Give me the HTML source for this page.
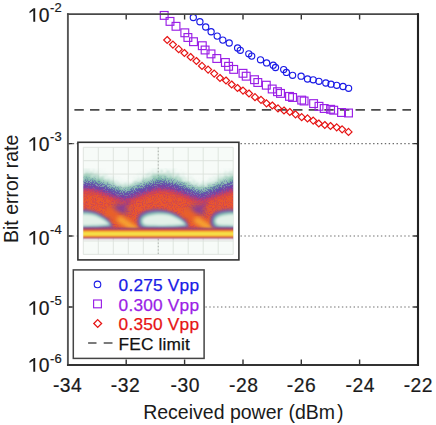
<!DOCTYPE html>
<html><head><meta charset="utf-8"><style>
html,body{margin:0;padding:0;background:#fff;width:436px;height:425px;overflow:hidden}
svg{display:block}
</style></head><body>
<svg width="436" height="425" viewBox="0 0 436 425">
<defs><filter id="b05" x="-5%" y="-5%" width="110%" height="110%"><feGaussianBlur stdDeviation="0.45"/></filter><filter id="b08" x="-5%" y="-5%" width="110%" height="110%"><feGaussianBlur stdDeviation="1.0"/></filter><filter id="b1" x="-10%" y="-50%" width="120%" height="200%"><feGaussianBlur stdDeviation="0.8"/></filter>
<filter id="b15" x="-20%" y="-20%" width="140%" height="140%"><feGaussianBlur stdDeviation="1.5"/></filter>
<filter id="b2" x="-20%" y="-20%" width="140%" height="140%"><feGaussianBlur stdDeviation="2"/></filter>
<filter id="b3" x="-20%" y="-30%" width="140%" height="160%"><feGaussianBlur stdDeviation="3"/></filter>

<clipPath id="eyeclip"><rect x="83.3" y="147.3" width="149.9" height="107.1"/></clipPath><filter id="sp1" x="-10%" y="-20%" width="120%" height="140%" color-interpolation-filters="sRGB">
<feGaussianBlur in="SourceGraphic" stdDeviation="5" result="bl"/>
<feTurbulence type="fractalNoise" baseFrequency="0.75" numOctaves="1" seed="2" result="tn"/>
<feColorMatrix in="tn" type="matrix" values="0 0 0 0 0 0 0 0 0 0 0 0 0 0 0 4 0 0 0 -1.5" result="na"/>
<feComposite in="na" in2="bl" operator="arithmetic" k1="0" k2="6" k3="6" k4="-6" result="mask"/>
<feComposite in="bl" in2="mask" operator="in"/>
</filter><filter id="sp2" x="-10%" y="-20%" width="120%" height="140%" color-interpolation-filters="sRGB">
<feGaussianBlur in="SourceGraphic" stdDeviation="3" result="bl"/>
<feTurbulence type="fractalNoise" baseFrequency="0.9" numOctaves="1" seed="5" result="tn"/>
<feColorMatrix in="tn" type="matrix" values="0 0 0 0 0 0 0 0 0 0 0 0 0 0 0 4 0 0 0 -1.5" result="na"/>
<feComposite in="na" in2="bl" operator="arithmetic" k1="0" k2="6" k3="6" k4="-6" result="mask"/>
<feComposite in="bl" in2="mask" operator="in"/>
</filter><filter id="sp3" x="-10%" y="-20%" width="120%" height="140%" color-interpolation-filters="sRGB">
<feGaussianBlur in="SourceGraphic" stdDeviation="2" result="bl"/>
<feTurbulence type="fractalNoise" baseFrequency="0.9" numOctaves="1" seed="9" result="tn"/>
<feColorMatrix in="tn" type="matrix" values="0 0 0 0 0 0 0 0 0 0 0 0 0 0 0 4 0 0 0 -1.5" result="na"/>
<feComposite in="na" in2="bl" operator="arithmetic" k1="0" k2="6" k3="6" k4="-6" result="mask"/>
<feComposite in="bl" in2="mask" operator="in"/>
</filter><filter id="sp4" x="-10%" y="-20%" width="120%" height="140%" color-interpolation-filters="sRGB">
<feGaussianBlur in="SourceGraphic" stdDeviation="2" result="bl"/>
<feTurbulence type="fractalNoise" baseFrequency="0.9" numOctaves="1" seed="13" result="tn"/>
<feColorMatrix in="tn" type="matrix" values="0 0 0 0 0 0 0 0 0 0 0 0 0 0 0 4 0 0 0 -1.5" result="na"/>
<feComposite in="na" in2="bl" operator="arithmetic" k1="0" k2="6" k3="6" k4="-6" result="mask"/>
<feComposite in="bl" in2="mask" operator="in"/>
</filter></defs>
<rect width="436" height="425" fill="#fff"/>
<line x1="68.9" y1="143.6" x2="417.0" y2="143.6" stroke="#6a6a6a" stroke-width="1.2" stroke-dasharray="1.4 2.5"/><line x1="68.9" y1="236.0" x2="417.0" y2="236.0" stroke="#6a6a6a" stroke-width="1.2" stroke-dasharray="1.4 2.5"/><line x1="68.9" y1="307.0" x2="417.0" y2="307.0" stroke="#6a6a6a" stroke-width="1.2" stroke-dasharray="1.4 2.5"/><line x1="74.4" y1="109.9" x2="411" y2="109.9" stroke="#4a4a4a" stroke-width="1.6" stroke-dasharray="9.4 6.22"/><g fill="none" stroke="#1a1ae6" stroke-width="1.15"><circle cx="193.3" cy="17.5" r="3.1"/><circle cx="199.9" cy="21.7" r="3.1"/><circle cx="205.7" cy="27" r="3.1"/><circle cx="211.1" cy="31.8" r="3.1"/><circle cx="217.2" cy="36.1" r="3.1"/><circle cx="222.8" cy="40.1" r="3.1"/><circle cx="229.2" cy="43" r="3.1"/><circle cx="237.6" cy="48" r="3.1"/><circle cx="240.3" cy="50.3" r="3.1"/><circle cx="248.8" cy="53.8" r="3.1"/><circle cx="251.7" cy="56.1" r="3.1"/><circle cx="260.5" cy="59.8" r="3.1"/><circle cx="266.6" cy="62.9" r="3.1"/><circle cx="273.2" cy="65.2" r="3.1"/><circle cx="275.5" cy="67.5" r="3.1"/><circle cx="283.7" cy="69.6" r="3.1"/><circle cx="286.4" cy="72.4" r="3.1"/><circle cx="292.6" cy="75.3" r="3.1"/><circle cx="301.1" cy="76.2" r="3.1"/><circle cx="307.5" cy="79" r="3.1"/><circle cx="313.2" cy="79.8" r="3.1"/><circle cx="318.9" cy="81.3" r="3.1"/><circle cx="325.8" cy="83" r="3.1"/><circle cx="331" cy="84.2" r="3.1"/><circle cx="336.7" cy="85.3" r="3.1"/><circle cx="343" cy="86.5" r="3.1"/><circle cx="348.6" cy="88.3" r="3.1"/></g><g fill="none" stroke="#9a1ee6" stroke-width="1.15"><rect x="160.3" y="11.5" width="7.8" height="7.8"/><rect x="166.1" y="17.5" width="7.8" height="7.8"/><rect x="172.1" y="22.4" width="7.8" height="7.8"/><rect x="180.9" y="28.9" width="7.8" height="7.8"/><rect x="184.0" y="33.6" width="7.8" height="7.8"/><rect x="189.6" y="37.8" width="7.8" height="7.8"/><rect x="198.4" y="41.8" width="7.8" height="7.8"/><rect x="201.2" y="46.1" width="7.8" height="7.8"/><rect x="207.1" y="50.0" width="7.8" height="7.8"/><rect x="212.9" y="54.6" width="7.8" height="7.8"/><rect x="221.5" y="58.6" width="7.8" height="7.8"/><rect x="224.7" y="62.4" width="7.8" height="7.8"/><rect x="229.8" y="65.5" width="7.8" height="7.8"/><rect x="239.1" y="69.4" width="7.8" height="7.8"/><rect x="242.3" y="72.3" width="7.8" height="7.8"/><rect x="250.6" y="75.8" width="7.8" height="7.8"/><rect x="253.9" y="78.6" width="7.8" height="7.8"/><rect x="262.4" y="81.3" width="7.8" height="7.8"/><rect x="268.3" y="85.1" width="7.8" height="7.8"/><rect x="273.6" y="87.8" width="7.8" height="7.8"/><rect x="276.6" y="89.5" width="7.8" height="7.8"/><rect x="285.6" y="92.5" width="7.8" height="7.8"/><rect x="288.7" y="93.6" width="7.8" height="7.8"/><rect x="297.8" y="96.2" width="7.8" height="7.8"/><rect x="300.2" y="97.1" width="7.8" height="7.8"/><rect x="309.7" y="99.7" width="7.8" height="7.8"/><rect x="315.1" y="102.4" width="7.8" height="7.8"/><rect x="320.3" y="104.6" width="7.8" height="7.8"/><rect x="326.7" y="105.4" width="7.8" height="7.8"/><rect x="329.8" y="106.3" width="7.8" height="7.8"/><rect x="337.6" y="108.6" width="7.8" height="7.8"/><rect x="344.6" y="109.1" width="7.8" height="7.8"/></g><g fill="none" stroke="#e61414" stroke-width="1.2"><path d="M167.2 36.5L170.7 40.0L167.2 43.5L163.7 40.0Z"/><path d="M172.9 41.1L176.4 44.6L172.9 48.1L169.4 44.6Z"/><path d="M178.7 45.7L182.2 49.2L178.7 52.7L175.2 49.2Z"/><path d="M184.4 49.5L187.9 53.0L184.4 56.5L180.9 53.0Z"/><path d="M190.6 53.5L194.1 57.0L190.6 60.5L187.1 57.0Z"/><path d="M196.4 57.5L199.9 61.0L196.4 64.5L192.9 61.0Z"/><path d="M202.0 62.4L205.5 65.9L202.0 69.4L198.5 65.9Z"/><path d="M208.1 66.1L211.6 69.6L208.1 73.1L204.6 69.6Z"/><path d="M214.2 70.1L217.7 73.6L214.2 77.1L210.7 73.6Z"/><path d="M220.0 74.5L223.5 78.0L220.0 81.5L216.5 78.0Z"/><path d="M226.0 77.0L229.5 80.5L226.0 84.0L222.5 80.5Z"/><path d="M231.7 81.0L235.2 84.5L231.7 88.0L228.2 84.5Z"/><path d="M237.5 84.5L241.0 88.0L237.5 91.5L234.0 88.0Z"/><path d="M243.0 87.1L246.5 90.6L243.0 94.1L239.5 90.6Z"/><path d="M249.0 90.0L252.5 93.5L249.0 97.0L245.5 93.5Z"/><path d="M255.0 93.7L258.5 97.2L255.0 100.7L251.5 97.2Z"/><path d="M261.0 96.3L264.5 99.8L261.0 103.3L257.5 99.8Z"/><path d="M266.5 99.8L270.0 103.3L266.5 106.8L263.0 103.3Z"/><path d="M272.3 102.0L275.8 105.5L272.3 109.0L268.8 105.5Z"/><path d="M278.0 104.9L281.5 108.4L278.0 111.9L274.5 108.4Z"/><path d="M284.0 107.0L287.5 110.5L284.0 114.0L280.5 110.5Z"/><path d="M289.8 108.5L293.3 112.0L289.8 115.5L286.3 112.0Z"/><path d="M295.5 110.8L299.0 114.3L295.5 117.8L292.0 114.3Z"/><path d="M301.7 113.7L305.2 117.2L301.7 120.7L298.2 117.2Z"/><path d="M307.5 114.9L311.0 118.4L307.5 121.9L304.0 118.4Z"/><path d="M313.2 117.1L316.7 120.6L313.2 124.1L309.7 120.6Z"/><path d="M318.8 120.0L322.3 123.5L318.8 127.0L315.3 123.5Z"/><path d="M324.8 121.5L328.3 125.0L324.8 128.5L321.3 125.0Z"/><path d="M330.5 122.5L334.0 126.0L330.5 129.5L327.0 126.0Z"/><path d="M336.7 123.8L340.2 127.3L336.7 130.8L333.2 127.3Z"/><path d="M342.1 125.8L345.6 129.3L342.1 132.8L338.6 129.3Z"/><path d="M348.5 128.4L352.0 131.9L348.5 135.4L345.0 131.9Z"/></g><path d="M126.2 365.0v-5.5M126.2 14.1v5.5M184.6 365.0v-5.5M184.6 14.1v5.5M243.0 365.0v-5.5M243.0 14.1v5.5M301.3 365.0v-5.5M301.3 14.1v5.5M359.6 365.0v-5.5M359.6 14.1v5.5M67.9 143.6h4.8M418.0 143.6h-4.8M67.9 236.0h4.8M418.0 236.0h-4.8M67.9 307.0h4.8M418.0 307.0h-4.8" stroke="#333" stroke-width="1.4" fill="none"/>
<g>
<rect x="77.9" y="142.3" width="161.0" height="117.6" fill="#fff" stroke="#333" stroke-width="1.6"/>
<rect x="83.3" y="147.3" width="149.9" height="107.1" fill="#f7fbf8"/>
<g stroke="#dde2dd" stroke-width="0.9" fill="none">
<line x1="83.3" y1="147.3" x2="83.3" y2="254.4"/><line x1="98.3" y1="147.3" x2="98.3" y2="254.4"/><line x1="113.3" y1="147.3" x2="113.3" y2="254.4"/><line x1="128.3" y1="147.3" x2="128.3" y2="254.4"/><line x1="143.3" y1="147.3" x2="143.3" y2="254.4"/><line x1="158.2" y1="147.3" x2="158.2" y2="254.4"/><line x1="173.2" y1="147.3" x2="173.2" y2="254.4"/><line x1="188.2" y1="147.3" x2="188.2" y2="254.4"/><line x1="203.2" y1="147.3" x2="203.2" y2="254.4"/><line x1="218.2" y1="147.3" x2="218.2" y2="254.4"/><line x1="233.2" y1="147.3" x2="233.2" y2="254.4"/><line x1="83.3" y1="147.3" x2="233.2" y2="147.3"/><line x1="83.3" y1="160.7" x2="233.2" y2="160.7"/><line x1="83.3" y1="174.1" x2="233.2" y2="174.1"/><line x1="83.3" y1="187.5" x2="233.2" y2="187.5"/><line x1="83.3" y1="200.9" x2="233.2" y2="200.9"/><line x1="83.3" y1="214.2" x2="233.2" y2="214.2"/><line x1="83.3" y1="227.6" x2="233.2" y2="227.6"/><line x1="83.3" y1="241.0" x2="233.2" y2="241.0"/><line x1="83.3" y1="254.4" x2="233.2" y2="254.4"/><line x1="158.25" y1="147.3" x2="158.25" y2="254.4" stroke="#a8aca8" stroke-dasharray="1.3 2.1"/>
</g>
<g clip-path="url(#eyeclip)"><g filter="url(#b05)"><g filter="url(#b08)"><path d="M77.3 172.7L79.1 172.1L80.9 171.7L82.7 171.3L84.5 171.1L86.3 171.0L88.1 171.1L89.9 171.3L91.7 171.7L93.5 172.2L95.3 172.7L97.1 173.4L98.9 174.1L100.7 174.9L102.5 175.8L104.3 176.7L106.1 177.6L107.9 178.5L109.7 179.5L111.5 180.4L113.3 181.3L115.1 182.2L116.9 183.0L118.7 183.8L120.5 184.6L122.3 185.3L124.1 185.9L125.9 185.6L127.7 184.9L129.5 184.2L131.3 183.4L133.1 182.6L134.9 181.7L136.7 180.8L138.5 179.9L140.3 179.0L142.1 178.0L143.9 177.1L145.7 176.2L147.5 175.3L149.3 174.5L151.1 173.7L152.9 173.0L154.7 172.4L156.5 171.9L158.2 171.5L160.0 171.2L161.8 171.0L163.6 171.0L165.4 171.2L167.2 171.5L169.0 171.9L170.8 172.4L172.6 173.0L174.4 173.7L176.2 174.5L178.0 175.3L179.8 176.2L181.6 177.1L183.4 178.0L185.2 179.0L187.0 179.9L188.8 180.8L190.6 181.7L192.4 182.6L194.2 183.4L196.0 184.2L197.8 184.9L199.6 185.5L201.4 185.9L203.2 185.3L205.0 184.6L206.8 183.8L208.6 183.0L210.4 182.2L212.2 181.3L214.0 180.4L215.8 179.5L217.6 178.5L219.4 177.6L221.2 176.7L223.0 175.8L224.8 174.9L226.6 174.1L228.4 173.4L230.2 172.7L232.0 172.2L233.8 171.7L235.6 171.3L237.4 171.1L239.2 171.0L239.2 229L77.3 229Z" fill="#6cb496" fill-opacity="0.9" filter="url(#sp1)"/><path d="M77.3 177.7L79.1 177.3L80.9 177.0L82.7 176.7L84.5 176.6L86.3 176.5L88.1 176.6L89.9 176.7L91.7 177.0L93.5 177.4L95.3 177.8L97.1 178.3L98.9 178.8L100.7 179.4L102.5 180.0L104.3 180.7L106.1 181.3L107.9 182.0L109.7 182.7L111.5 183.4L113.3 184.1L115.1 184.7L116.9 185.3L118.7 185.9L120.5 186.5L122.3 187.0L124.1 187.4L125.9 187.2L127.7 186.7L129.5 186.2L131.3 185.6L133.1 185.0L134.9 184.4L136.7 183.7L138.5 183.0L140.3 182.4L142.1 181.7L143.9 181.0L145.7 180.3L147.5 179.7L149.3 179.1L151.1 178.5L152.9 178.0L154.7 177.5L156.5 177.2L158.2 176.9L160.0 176.6L161.8 176.5L163.6 176.5L165.4 176.6L167.2 176.9L169.0 177.2L170.8 177.5L172.6 178.0L174.4 178.5L176.2 179.1L178.0 179.7L179.8 180.3L181.6 181.0L183.4 181.7L185.2 182.3L187.0 183.0L188.8 183.7L190.6 184.4L192.4 185.0L194.2 185.6L196.0 186.2L197.8 186.7L199.6 187.2L201.4 187.4L203.2 187.0L205.0 186.5L206.8 185.9L208.6 185.3L210.4 184.7L212.2 184.1L214.0 183.4L215.8 182.7L217.6 182.0L219.4 181.3L221.2 180.7L223.0 180.0L224.8 179.4L226.6 178.8L228.4 178.3L230.2 177.8L232.0 177.4L233.8 177.0L235.6 176.8L237.4 176.6L239.2 176.5L239.2 229L77.3 229Z" fill="#5aa898" fill-opacity="0.85" filter="url(#sp2)"/></g><path d="M77.3 181.2L79.1 180.8L80.9 180.5L82.7 180.2L84.5 180.1L86.3 180.0L88.1 180.1L89.9 180.2L91.7 180.5L93.5 180.9L95.3 181.3L97.1 181.8L98.9 182.3L100.7 182.9L102.5 183.5L104.3 184.2L106.1 184.8L107.9 185.5L109.7 186.2L111.5 186.9L113.3 187.6L115.1 188.2L116.9 188.8L118.7 189.4L120.5 190.0L122.3 190.5L124.1 190.9L125.9 190.7L127.7 190.2L129.5 189.7L131.3 189.1L133.1 188.5L134.9 187.9L136.7 187.2L138.5 186.5L140.3 185.9L142.1 185.2L143.9 184.5L145.7 183.8L147.5 183.2L149.3 182.6L151.1 182.0L152.9 181.5L154.7 181.0L156.5 180.7L158.2 180.4L160.0 180.1L161.8 180.0L163.6 180.0L165.4 180.1L167.2 180.4L169.0 180.7L170.8 181.0L172.6 181.5L174.4 182.0L176.2 182.6L178.0 183.2L179.8 183.8L181.6 184.5L183.4 185.2L185.2 185.8L187.0 186.5L188.8 187.2L190.6 187.9L192.4 188.5L194.2 189.1L196.0 189.7L197.8 190.2L199.6 190.7L201.4 190.9L203.2 190.5L205.0 190.0L206.8 189.4L208.6 188.8L210.4 188.2L212.2 187.6L214.0 186.9L215.8 186.2L217.6 185.5L219.4 184.8L221.2 184.2L223.0 183.5L224.8 182.9L226.6 182.3L228.4 181.8L230.2 181.3L232.0 180.9L233.8 180.5L235.6 180.3L237.4 180.1L239.2 180.0L239.2 229L77.3 229Z" fill="#5252b2" filter="url(#sp2)"/><path d="M77.3 185.7L79.1 185.3L80.9 185.0L82.7 184.7L84.5 184.6L86.3 184.5L88.1 184.6L89.9 184.7L91.7 185.0L93.5 185.4L95.3 185.8L97.1 186.3L98.9 186.8L100.7 187.4L102.5 188.0L104.3 188.7L106.1 189.3L107.9 190.0L109.7 190.7L111.5 191.4L113.3 192.1L115.1 192.7L116.9 193.3L118.7 193.9L120.5 194.5L122.3 195.0L124.1 195.4L125.9 195.2L127.7 194.7L129.5 194.2L131.3 193.6L133.1 193.0L134.9 192.4L136.7 191.7L138.5 191.0L140.3 190.4L142.1 189.7L143.9 189.0L145.7 188.3L147.5 187.7L149.3 187.1L151.1 186.5L152.9 186.0L154.7 185.5L156.5 185.2L158.2 184.9L160.0 184.6L161.8 184.5L163.6 184.5L165.4 184.6L167.2 184.9L169.0 185.2L170.8 185.5L172.6 186.0L174.4 186.5L176.2 187.1L178.0 187.7L179.8 188.3L181.6 189.0L183.4 189.7L185.2 190.3L187.0 191.0L188.8 191.7L190.6 192.4L192.4 193.0L194.2 193.6L196.0 194.2L197.8 194.7L199.6 195.2L201.4 195.4L203.2 195.0L205.0 194.5L206.8 193.9L208.6 193.3L210.4 192.7L212.2 192.1L214.0 191.4L215.8 190.7L217.6 190.0L219.4 189.3L221.2 188.7L223.0 188.0L224.8 187.4L226.6 186.8L228.4 186.3L230.2 185.8L232.0 185.4L233.8 185.0L235.6 184.8L237.4 184.6L239.2 184.5L239.2 229L77.3 229Z" fill="#7a40a8" filter="url(#b3)"/><path d="M77.3 188.7L79.1 188.3L80.9 188.0L82.7 187.7L84.5 187.6L86.3 187.5L88.1 187.6L89.9 187.7L91.7 188.0L93.5 188.4L95.3 188.8L97.1 189.3L98.9 189.8L100.7 190.4L102.5 191.0L104.3 191.7L106.1 192.3L107.9 193.0L109.7 193.7L111.5 194.4L113.3 195.1L115.1 195.7L116.9 196.3L118.7 196.9L120.5 197.5L122.3 198.0L124.1 198.4L125.9 198.2L127.7 197.7L129.5 197.2L131.3 196.6L133.1 196.0L134.9 195.4L136.7 194.7L138.5 194.0L140.3 193.4L142.1 192.7L143.9 192.0L145.7 191.3L147.5 190.7L149.3 190.1L151.1 189.5L152.9 189.0L154.7 188.5L156.5 188.2L158.2 187.9L160.0 187.6L161.8 187.5L163.6 187.5L165.4 187.6L167.2 187.9L169.0 188.2L170.8 188.5L172.6 189.0L174.4 189.5L176.2 190.1L178.0 190.7L179.8 191.3L181.6 192.0L183.4 192.7L185.2 193.3L187.0 194.0L188.8 194.7L190.6 195.4L192.4 196.0L194.2 196.6L196.0 197.2L197.8 197.7L199.6 198.2L201.4 198.4L203.2 198.0L205.0 197.5L206.8 196.9L208.6 196.3L210.4 195.7L212.2 195.1L214.0 194.4L215.8 193.7L217.6 193.0L219.4 192.3L221.2 191.7L223.0 191.0L224.8 190.4L226.6 189.8L228.4 189.3L230.2 188.8L232.0 188.4L233.8 188.0L235.6 187.8L237.4 187.6L239.2 187.5L239.2 229L77.3 229Z" fill="#c0387a" filter="url(#sp2)"/><path d="M77.3 191.7L79.1 191.3L80.9 191.0L82.7 190.7L84.5 190.6L86.3 190.5L88.1 190.6L89.9 190.7L91.7 191.0L93.5 191.4L95.3 191.8L97.1 192.3L98.9 192.8L100.7 193.4L102.5 194.0L104.3 194.7L106.1 195.3L107.9 196.0L109.7 196.7L111.5 197.4L113.3 198.1L115.1 198.7L116.9 199.3L118.7 199.9L120.5 200.5L122.3 201.0L124.1 201.4L125.9 201.2L127.7 200.7L129.5 200.2L131.3 199.6L133.1 199.0L134.9 198.4L136.7 197.7L138.5 197.0L140.3 196.4L142.1 195.7L143.9 195.0L145.7 194.3L147.5 193.7L149.3 193.1L151.1 192.5L152.9 192.0L154.7 191.5L156.5 191.2L158.2 190.9L160.0 190.6L161.8 190.5L163.6 190.5L165.4 190.6L167.2 190.9L169.0 191.2L170.8 191.5L172.6 192.0L174.4 192.5L176.2 193.1L178.0 193.7L179.8 194.3L181.6 195.0L183.4 195.7L185.2 196.3L187.0 197.0L188.8 197.7L190.6 198.4L192.4 199.0L194.2 199.6L196.0 200.2L197.8 200.7L199.6 201.2L201.4 201.4L203.2 201.0L205.0 200.5L206.8 199.9L208.6 199.3L210.4 198.7L212.2 198.1L214.0 197.4L215.8 196.7L217.6 196.0L219.4 195.3L221.2 194.7L223.0 194.0L224.8 193.4L226.6 192.8L228.4 192.3L230.2 191.8L232.0 191.4L233.8 191.0L235.6 190.8L237.4 190.6L239.2 190.5L239.2 229L77.3 229Z" fill="#e04a3c" filter="url(#b2)"/><path d="M77.3 193.7L79.1 193.3L80.9 193.0L82.7 192.7L84.5 192.6L86.3 192.5L88.1 192.6L89.9 192.7L91.7 193.0L93.5 193.4L95.3 193.8L97.1 194.3L98.9 194.8L100.7 195.4L102.5 196.0L104.3 196.7L106.1 197.3L107.9 198.0L109.7 198.7L111.5 199.4L113.3 200.1L115.1 200.7L116.9 201.3L118.7 201.9L120.5 202.5L122.3 203.0L124.1 203.4L125.9 203.2L127.7 202.7L129.5 202.2L131.3 201.6L133.1 201.0L134.9 200.4L136.7 199.7L138.5 199.0L140.3 198.4L142.1 197.7L143.9 197.0L145.7 196.3L147.5 195.7L149.3 195.1L151.1 194.5L152.9 194.0L154.7 193.5L156.5 193.2L158.2 192.9L160.0 192.6L161.8 192.5L163.6 192.5L165.4 192.6L167.2 192.9L169.0 193.2L170.8 193.5L172.6 194.0L174.4 194.5L176.2 195.1L178.0 195.7L179.8 196.3L181.6 197.0L183.4 197.7L185.2 198.3L187.0 199.0L188.8 199.7L190.6 200.4L192.4 201.0L194.2 201.6L196.0 202.2L197.8 202.7L199.6 203.2L201.4 203.4L203.2 203.0L205.0 202.5L206.8 201.9L208.6 201.3L210.4 200.7L212.2 200.1L214.0 199.4L215.8 198.7L217.6 198.0L219.4 197.3L221.2 196.7L223.0 196.0L224.8 195.4L226.6 194.8L228.4 194.3L230.2 193.8L232.0 193.4L233.8 193.0L235.6 192.8L237.4 192.6L239.2 192.5L239.2 229L77.3 229Z" fill="#ea5c2c" fill-opacity="0.85" filter="url(#sp3)"/><path d="M77.3 191.7L79.1 191.3L80.9 191.0L82.7 190.7L84.5 190.6L86.3 190.5L88.1 190.6L89.9 190.7L91.7 191.0L93.5 191.4L95.3 191.8L97.1 192.3L98.9 192.8L100.7 193.4L102.5 194.0L104.3 194.7L106.1 195.3L107.9 196.0L109.7 196.7L111.5 197.4L113.3 198.1L115.1 198.7L116.9 199.3L118.7 199.9L120.5 200.5L122.3 201.0L124.1 201.4L125.9 201.2L127.7 200.7L129.5 200.2L131.3 199.6L133.1 199.0L134.9 198.4L136.7 197.7L138.5 197.0L140.3 196.4L142.1 195.7L143.9 195.0L145.7 194.3L147.5 193.7L149.3 193.1L151.1 192.5L152.9 192.0L154.7 191.5L156.5 191.2L158.2 190.9L160.0 190.6L161.8 190.5L163.6 190.5L165.4 190.6L167.2 190.9L169.0 191.2L170.8 191.5L172.6 192.0L174.4 192.5L176.2 193.1L178.0 193.7L179.8 194.3L181.6 195.0L183.4 195.7L185.2 196.3L187.0 197.0L188.8 197.7L190.6 198.4L192.4 199.0L194.2 199.6L196.0 200.2L197.8 200.7L199.6 201.2L201.4 201.4L203.2 201.0L205.0 200.5L206.8 199.9L208.6 199.3L210.4 198.7L212.2 198.1L214.0 197.4L215.8 196.7L217.6 196.0L219.4 195.3L221.2 194.7L223.0 194.0L224.8 193.4L226.6 192.8L228.4 192.3L230.2 191.8L232.0 191.4L233.8 191.0L235.6 190.8L237.4 190.6L239.2 190.5L239.2 229L77.3 229Z" fill="#a03c8c" fill-opacity="0.3" filter="url(#sp4)"/><path d="M110 210L120 203L130 210L120 217Z" fill="#7040a8" filter="url(#b3)" opacity="0.9"/><path d="M106 221L130 201" stroke="#8a3a9a" stroke-width="3" filter="url(#b15)" opacity="0.7"/><path d="M187 211L197 204L207 211L197 218Z" fill="#7040a8" filter="url(#b3)" opacity="0.9"/><path d="M183 222L207 202" stroke="#8a3a9a" stroke-width="3" filter="url(#b15)" opacity="0.7"/><path d="M106 210L138 231" stroke="#e8602c" stroke-width="11" filter="url(#b2)" fill="none"/><path d="M118 218L138 231" stroke="#f8a830" stroke-width="6" filter="url(#b2)" fill="none"/><path d="M183 211L214 231" stroke="#e8602c" stroke-width="11" filter="url(#b2)" fill="none"/><path d="M195 219L214 231" stroke="#f8a830" stroke-width="6" filter="url(#b2)" fill="none"/><path d="M61.4 221C61.4 211.2 71.8 209.2 81.8 209.2C92.8 209.2 106.7 214.2 113.7 227.1C107.7 229.1 69.4 229.1 64.4 228.1C62.4 227.1 61.4 225.6 61.4 221Z" fill="#7a4aa8" filter="url(#b15)"/><path d="M63.7 221C63.7 213.5 73.4 211.5 83.4 211.5C94.4 211.5 104.8 216.5 111.8 225.7C105.8 227.7 71.7 227.7 66.7 226.7C64.7 225.7 63.7 224.2 63.7 221Z" fill="#72b2a8" filter="url(#b15)"/><path d="M66.0 221C66.0 215.8 75.0 213.8 85.0 213.8C96.0 213.8 103.0 218.8 110.0 224.3C104.0 226.3 74.0 226.3 69.0 225.3C67.0 224.3 66.0 222.8 66.0 221Z" fill="#e2f1e8" filter="url(#b15)"/><path d="M137.4 221C137.4 211.2 147.8 209.2 157.8 209.2C168.8 209.2 182.7 214.2 189.7 227.1C183.7 229.1 145.4 229.1 140.4 228.1C138.4 227.1 137.4 225.6 137.4 221Z" fill="#7a4aa8" filter="url(#b15)"/><path d="M139.7 221C139.7 213.5 149.4 211.5 159.4 211.5C170.4 211.5 180.8 216.5 187.8 225.7C181.8 227.7 147.7 227.7 142.7 226.7C140.7 225.7 139.7 224.2 139.7 221Z" fill="#72b2a8" filter="url(#b15)"/><path d="M142.0 221C142.0 215.8 151.0 213.8 161.0 213.8C172.0 213.8 179.0 218.8 186.0 224.3C180.0 226.3 150.0 226.3 145.0 225.3C143.0 224.3 142.0 222.8 142.0 221Z" fill="#e2f1e8" filter="url(#b15)"/><path d="M210.4 221C210.4 211.2 220.8 209.2 230.8 209.2C241.8 209.2 255.7 214.2 262.7 227.1C256.7 229.1 218.4 229.1 213.4 228.1C211.4 227.1 210.4 225.6 210.4 221Z" fill="#7a4aa8" filter="url(#b15)"/><path d="M212.7 221C212.7 213.5 222.4 211.5 232.4 211.5C243.4 211.5 253.8 216.5 260.8 225.7C254.8 227.7 220.7 227.7 215.7 226.7C213.7 225.7 212.7 224.2 212.7 221Z" fill="#72b2a8" filter="url(#b15)"/><path d="M215.0 221C215.0 215.8 224.0 213.8 234.0 213.8C245.0 213.8 252.0 218.8 259.0 224.3C253.0 226.3 223.0 226.3 218.0 225.3C216.0 224.3 215.0 222.8 215.0 221Z" fill="#e2f1e8" filter="url(#b15)"/><rect x="78" y="228.2" width="160" height="10" fill="#7a3c90" filter="url(#b1)"/><rect x="78" y="229.6" width="160" height="7.8" fill="#e84a30" filter="url(#b1)"/><rect x="78" y="230.6" width="160" height="5.8" fill="#f5a02c" filter="url(#b1)"/><rect x="78" y="231.8" width="160" height="4" fill="#f6e448" filter="url(#b1)"/></g></g>
</g>

<rect x="73.3" y="269.9" width="130.8" height="88.5" fill="#fff" stroke="#444" stroke-width="1.5"/>
<circle cx="97.5" cy="284.4" r="3.3" fill="none" stroke="#1a1ae6" stroke-width="1.1"/>
<rect x="93.6" y="300" width="7.8" height="7.8" fill="none" stroke="#9a1ee6" stroke-width="1.15"/>
<path d="M97.7 319.6L101.6 323.5L97.7 327.4L93.8 323.5Z" fill="none" stroke="#e61414" stroke-width="1.3"/>
<path d="M88.1 343H96.5M103.7 343H112.5" stroke="#505050" stroke-width="1.4"/>
<g font-family="Liberation Sans, sans-serif" font-size="17.3" stroke-width="0.25">
<text x="118.6" y="290.8" fill="#1a1ae6" stroke="#1a1ae6" letter-spacing="0.2">0.275 Vpp</text>
<text x="118.6" y="310.5" fill="#9a1ee6" stroke="#9a1ee6" letter-spacing="0.2">0.300 Vpp</text>
<text x="118.6" y="330.3" fill="#e61414" stroke="#e61414" letter-spacing="0.2">0.350 Vpp</text>
<text x="118.6" y="349.7" fill="#111" stroke="#111" letter-spacing="0.15">FEC limit</text>
</g>
<path d="M67.9 13.2V365.9" stroke="#555" stroke-width="1.9"/><path d="M67.0 14.1H419.0" stroke="#484848" stroke-width="1.7"/><path d="M67.0 365.0H419.0" stroke="#333" stroke-width="1.8"/><path d="M418.0 13.2V365.9" stroke="#222" stroke-width="2.1"/><g font-family="Liberation Sans, sans-serif" font-size="19.3" fill="#1a1a1a" stroke="#1a1a1a" stroke-width="0.2"><text x="67.6" y="392.3" text-anchor="middle" letter-spacing="0.5">-34</text><text x="125.5" y="392.3" text-anchor="middle" letter-spacing="0.5">-32</text><text x="185.3" y="392.3" text-anchor="middle" letter-spacing="0.5">-30</text><text x="243.7" y="392.3" text-anchor="middle" letter-spacing="0.5">-28</text><text x="301.5" y="392.3" text-anchor="middle" letter-spacing="0.5">-26</text><text x="360.3" y="392.3" text-anchor="middle" letter-spacing="0.5">-24</text><text x="418.4" y="392.3" text-anchor="middle" letter-spacing="0.5">-22</text><text x="49.5" y="21.8" text-anchor="end">0</text><path d="M33.3 8.2H35.2V21.8H33.3Z M33.4 8.2L29.5 11.4V13.2L33.4 10.6Z" stroke="none"/><text x="50.1" y="11.9" font-size="13">-2</text><text x="49.5" y="150.8" text-anchor="end">0</text><path d="M33.3 137.2H35.2V150.8H33.3Z M33.4 137.2L29.5 140.4V142.2L33.4 139.6Z" stroke="none"/><text x="50.1" y="141.4" font-size="13">-3</text><text x="49.5" y="244.6" text-anchor="end">0</text><path d="M33.3 231.0H35.2V244.6H33.3Z M33.4 231.0L29.5 234.2V236.0L33.4 233.4Z" stroke="none"/><text x="50.1" y="233.8" font-size="13">-4</text><text x="49.5" y="314.8" text-anchor="end">0</text><path d="M33.3 301.2H35.2V314.8H33.3Z M33.4 301.2L29.5 304.4V306.2L33.4 303.6Z" stroke="none"/><text x="50.1" y="304.8" font-size="13">-5</text><text x="49.5" y="371.7" text-anchor="end">0</text><path d="M33.3 358.1H35.2V371.7H33.3Z M33.4 358.1L29.5 361.3V363.1L33.4 360.5Z" stroke="none"/><text x="50.1" y="362.8" font-size="13">-6</text></g><text x="143.2" y="418.5" font-family="Liberation Sans, sans-serif" font-size="19.5" fill="#1a1a1a">Received power (dBm<tspan dx="2">)</tspan></text><text transform="translate(17.6 243) rotate(-90)" font-family="Liberation Sans, sans-serif" font-size="19.5" fill="#1a1a1a">Bit error rate</text>
</svg>
</body></html>
